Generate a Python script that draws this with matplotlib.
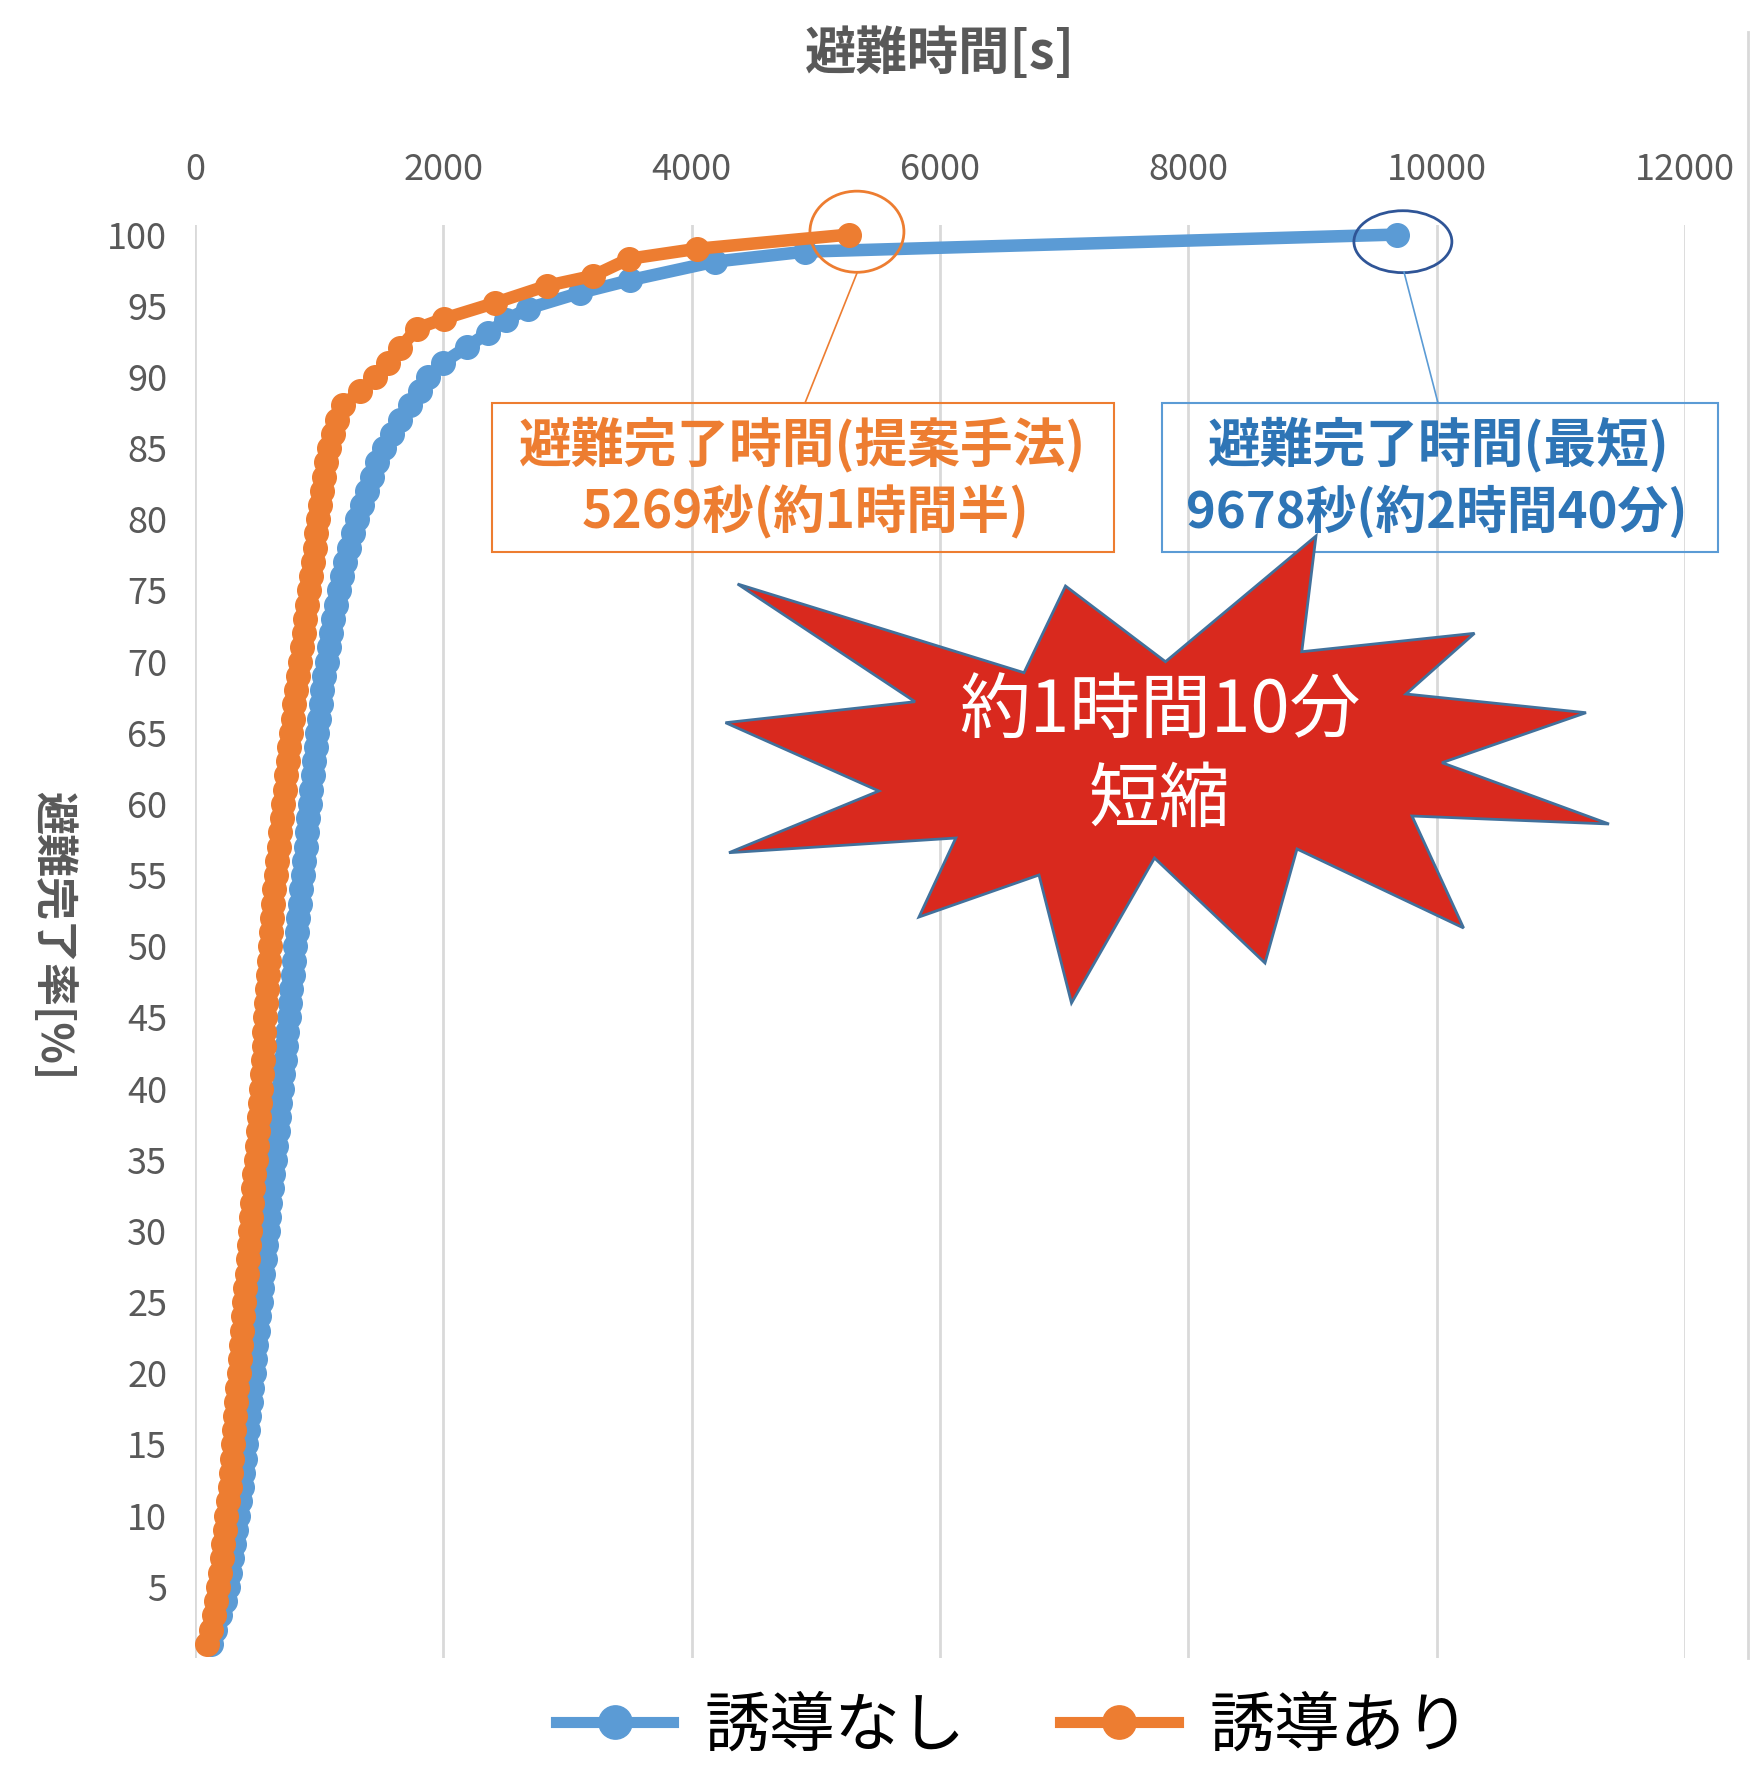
import matplotlib
matplotlib.use("Agg")
import matplotlib.pyplot as plt
from matplotlib.lines import Line2D
from matplotlib.patches import Rectangle, Ellipse, Polygon

plt.rcParams['font.family'] = ['Noto Sans CJK JP', 'DejaVu Sans']

W, H = 1765, 1768

# 誘導なし : completion rate [%] and evacuation time [s]
rate_none = [1, 2, 3, 4, 5, 6, 7, 8, 9, 10,
             11, 12, 13, 14, 15, 16, 17, 18, 19, 20,
             21, 22, 23, 24, 25, 26, 27, 28, 29, 30,
             31, 32, 33, 34, 35, 36, 37, 38, 39, 40,
             41, 42, 43, 44, 45, 46, 47, 48, 49, 50,
             51, 52, 53, 54, 55, 56, 57, 58, 59, 60,
             61, 62, 63, 64, 65, 66, 67, 68, 69, 70,
             71, 72, 73, 74, 75, 76, 77, 78, 79, 80,
             81, 82, 83, 84, 85, 86, 87, 88, 89, 90,
             91.0, 92.1, 93.1, 94.0, 94.8, 95.9, 96.8, 98.1, 98.8, 100]
time_none = [125, 165, 200, 238, 262, 282, 300, 318, 334, 349,
             363, 376, 388, 400, 412, 424, 436, 448, 460, 472,
             483, 494, 505, 516, 528, 539, 551, 562, 574, 585,
             597, 608, 620, 631, 643, 654, 666, 677, 688, 699,
             710, 721, 732, 743, 754, 765, 776, 787, 798, 809,
             820, 831, 842, 854, 866, 878, 890, 902, 914, 926,
             937, 948, 960, 973, 986, 999, 1012, 1026, 1042, 1060,
             1078, 1096, 1115, 1135, 1157, 1183, 1211, 1240, 1270, 1302,
             1342, 1383, 1423, 1465, 1520, 1585, 1650, 1730, 1810, 1880,
             1998, 2189, 2361, 2507, 2679, 3097, 3506, 4187, 4914, 9678]

# 誘導あり : completion rate [%] and evacuation time [s]
rate_guided = [1, 2, 3, 4, 5, 6, 7, 8, 9, 10,
               11, 12, 13, 14, 15, 16, 17, 18, 19, 20,
               21, 22, 23, 24, 25, 26, 27, 28, 29, 30,
               31, 32, 33, 34, 35, 36, 37, 38, 39, 40,
               41, 42, 43, 44, 45, 46, 47, 48, 49, 50,
               51, 52, 53, 54, 55, 56, 57, 58, 59, 60,
               61, 62, 63, 64, 65, 66, 67, 68, 69, 70,
               71, 72, 73, 74, 75, 76, 77, 78, 79, 80,
               81, 82, 83, 84, 85, 86, 87, 88, 89, 90,
               91, 92, 93.4, 94.1, 95.2, 96.4, 97.1, 98.3, 99.0, 100]
time_guided = [100, 125, 150, 173, 188, 201, 214, 227, 240, 252,
               264, 278, 288, 297, 306, 315, 324, 333, 342, 351,
               360, 369, 378, 387, 397, 406, 415, 425, 434, 443,
               452, 461, 470, 479, 488, 497, 506, 515, 523, 531,
               538, 545, 552, 559, 566, 573, 580, 587, 594, 601,
               609, 617, 626, 637, 649, 661, 673, 685, 697, 709,
               721, 734, 747, 760, 773, 787, 800, 814, 829, 844,
               859, 874, 889, 904, 920, 935, 949, 963, 977, 992,
               1007, 1022, 1038, 1056, 1080, 1108, 1140, 1195, 1330, 1450,
               1555, 1650, 1787, 2007, 2416, 2834, 3206, 3497, 4042, 5269]

series_labels = ['誘導なし', '誘導あり']
x_ticks = [0, 2000, 4000, 6000, 8000, 10000, 12000]
y_ticks = [5, 10, 15, 20, 25, 30, 35, 40, 45, 50,
           55, 60, 65, 70, 75, 80, 85, 90, 95, 100]

BLUE = '#5B9BD5'
ORANGE = '#ED7D31'
GRAY = '#595959'


def fx(px):
    return px / W


def fy(py):
    return 1 - py / H


fig = plt.figure(figsize=(W / 100, H / 100), dpi=100)
fig.patch.set_facecolor('white')

ax = fig.add_axes([fx(195), fy(1658), (1685 - 195) / W, (1658 - 224.6) / H])
ax.set_xlim(0, 12000)
ax.set_ylim(0, 100.7)
for s in ax.spines.values():
    s.set_visible(False)
ax.xaxis.tick_top()
ax.set_xticks(x_ticks)
ax.set_yticks(y_ticks)
ax.tick_params(length=0, labelsize=26, labelcolor=GRAY)
ax.tick_params(axis='x', pad=26)
ax.tick_params(axis='y', pad=20)
ax.grid(axis='x', color='#D9D9D9', linewidth=2)
ax.set_axisbelow(True)

ax.xaxis.set_label_position('top')
ax.set_xlabel('避難時間[s]', fontsize=37, fontweight='bold', color=GRAY)
ax.xaxis.label.set_va('center')
ax.xaxis.set_label_coords(0.5, (1658 - 54) / (1658 - 224.6))
ax.set_ylabel('避難完了率[%]', fontsize=31, fontweight='bold', color=GRAY,
              rotation=-90)
ax.yaxis.label.set_va('center')
ax.yaxis.label.set_ha('center')
ax.yaxis.set_label_coords((53 - 195) / 1490, (1658 - 936) / (1658 - 224.6))

ax.plot(time_none, rate_none, color=BLUE, lw=9, marker='o', ms=17,
        mec=BLUE, mfc=BLUE, clip_on=False, zorder=3)
ax.plot(time_guided, rate_guided, color=ORANGE, lw=9, marker='o', ms=17,
        mec=ORANGE, mfc=ORANGE, clip_on=False, zorder=4)

# circles around the final completion points
ax.add_patch(Ellipse((time_guided[-1] + 62, rate_guided[-1] + 0.2), 757, 5.7,
                     fill=False, ec=ORANGE, lw=2, clip_on=False, zorder=5))
ax.add_patch(Ellipse((time_none[-1] + 50, rate_none[-1] - 0.5), 789, 4.35,
                     fill=False, ec='#2F5597', lw=2, clip_on=False, zorder=5))

# callout connectors
fig.add_artist(Line2D([fx(805), fx(857)], [fy(403), fy(273)], color=ORANGE, lw=1.2))
fig.add_artist(Line2D([fx(1438), fx(1404)], [fy(403), fy(272)], color=BLUE, lw=1.2))

# callout boxes
fig.add_artist(Rectangle((fx(492), fy(552)), (1114 - 492) / W, (552 - 403) / H,
                         transform=fig.transFigure, fill=False, ec=ORANGE, lw=1.5))
fig.add_artist(Rectangle((fx(1162), fy(552)), (1718 - 1162) / W, (552 - 403) / H,
                         transform=fig.transFigure, fill=False, ec=BLUE, lw=1.5))
fig.text(fx(803), fy(445), '避難完了時間(提案手法)', ha='center', va='center',
         fontsize=38, fontweight='bold', color=ORANGE)
fig.text(fx(805), fy(512), '5269秒(約1時間半)', ha='center', va='center',
         fontsize=37, fontweight='bold', color=ORANGE)
fig.text(fx(1439), fy(445), '避難完了時間(最短)', ha='center', va='center',
         fontsize=38, fontweight='bold', color='#2E75B6')
fig.text(fx(1437), fy(512), '9678秒(約2時間40分)', ha='center', va='center',
         fontsize=36.5, fontweight='bold', color='#2E75B6')

# starburst
burst = [(737.6, 584), (1024, 672.7), (1065.5, 586), (1165.5, 661.7),
         (1316, 536), (1301.8, 651.7), (1474.5, 633.3), (1406, 694),
         (1586, 712.7), (1442, 762.7), (1609, 824), (1412, 816),
         (1463.6, 928), (1297, 849), (1265, 963), (1154.5, 858),
         (1071.5, 1003), (1039, 875), (919, 917), (955.8, 838),
         (729, 852.7), (878.8, 791), (725.5, 722.7), (915, 701.7)]
fig.add_artist(Polygon([(fx(x), fy(y)) for x, y in burst], closed=True,
                       transform=fig.transFigure, fc='#D9291E', ec='#41719C',
                       lw=2, joinstyle='miter'))
fig.text(fx(1160), fy(712), '約1時間10分', ha='center', va='center',
         fontsize=51, color='white')
fig.text(fx(1160), fy(800), '短縮', ha='center', va='center',
         fontsize=51, color='white')

# outer frame edge
fig.add_artist(Line2D([fx(1748), fx(1748)], [fy(32), fy(1658)], color='#D9D9D9', lw=2))

# legend
handles = [Line2D([0], [0], color=BLUE, lw=8, marker='o', ms=24, mec=BLUE),
           Line2D([0], [0], color=ORANGE, lw=8, marker='o', ms=24, mec=ORANGE)]
fig.legend(handles, series_labels, loc='center',
           bbox_to_anchor=(fx(1013), fy(1727)), ncol=2, frameon=False,
           fontsize=47, handlelength=1.8, handletextpad=0.48,
           columnspacing=1.45, borderpad=0, borderaxespad=0)

fig.savefig('out.png', dpi=100, facecolor='white')
